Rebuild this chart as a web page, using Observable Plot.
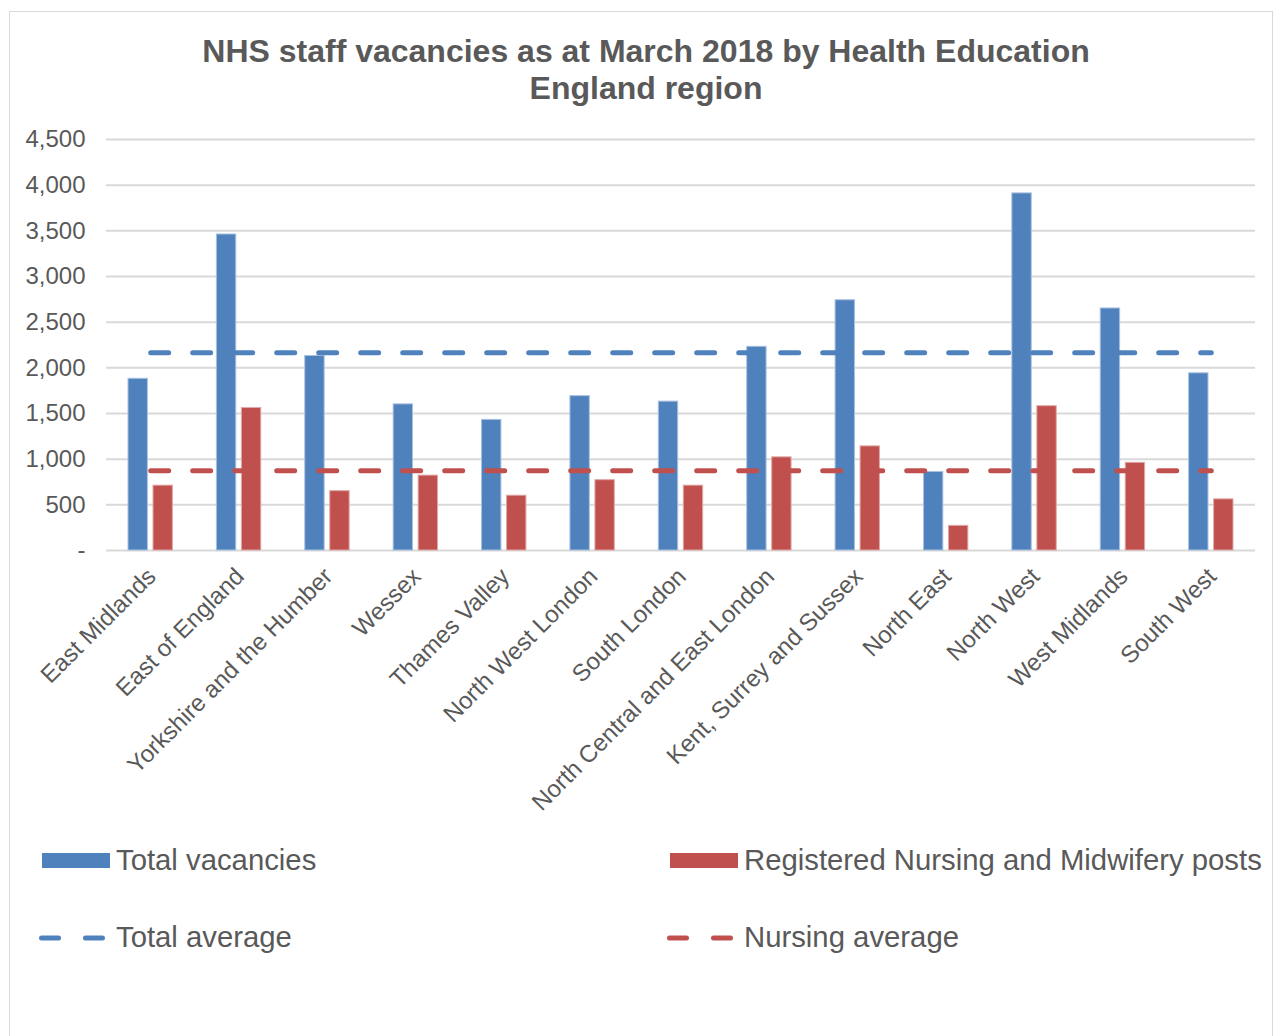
<!DOCTYPE html>
<html><head><meta charset="utf-8">
<script src="https://cdn.jsdelivr.net/npm/d3@7"></script>
<script src="https://cdn.jsdelivr.net/npm/@observablehq/plot@0.6"></script>
<style>
body{margin:0;background:#fff;font-family:"Liberation Sans",Arial,sans-serif;}
#wrap{position:relative;width:1276px;height:1036px;overflow:hidden;background:#fff;}
#frame{position:absolute;left:9px;top:11px;width:1264px;height:1060px;border:1px solid #d9d9d9;box-sizing:border-box;}
#title{position:absolute;left:0;width:1292px;top:33px;text-align:center;font-weight:bold;font-size:32px;line-height:37px;color:#595959;}
#chart{position:absolute;left:0;top:120px;}
.leg{position:absolute;font-size:29.3px;color:#595959;line-height:29px;white-space:nowrap;}
.sw{position:absolute;}
</style></head>
<body><div id="wrap">
<div id="frame"></div>
<div id="title">NHS staff vacancies as at March 2018 by Health Education<br>England region</div>
<div id="chart"></div>
<div id="legend"></div>
</div>
<script>
const regions = ["East Midlands","East of England","Yorkshire and the Humber","Wessex","Thames Valley","North West London","South London","North Central and East London","Kent, Surrey and Sussex","North East","North West","West Midlands","South West"];
const totalVacancies = [1880,3460,2130,1600,1430,1690,1630,2230,2740,860,3910,2650,1940];
const nursingPosts = [710,1560,650,820,600,770,710,1020,1140,270,1580,960,560];
const totalAverage = 2165;
const nursingAverage = 873;
const yTicks = [0,500,1000,1500,2000,2500,3000,3500,4000,4500];
const seriesNames = ["Total vacancies","Registered Nursing and Midwifery posts","Total average","Nursing average"];
const colors = ["#4f81bd","#c0504d"];

const totals = regions.map((r,i)=>({region:r, value: totalVacancies[i]}));
const nursing = regions.map((r,i)=>({region:r, value: nursingPosts[i]}));
const totalAvgData = regions.map(r=>({region:r, value: totalAverage}));
const nursingAvgData = regions.map(r=>({region:r, value: nursingAverage}));

const chart = Plot.plot({
  width:1276, height:700,
  marginTop:19, marginBottom:270, marginLeft:106, marginRight:21,
  style:{fontFamily:'"Liberation Sans", Arial, sans-serif', color:"#595959", background:"transparent", overflow:"visible"},
  x:{domain:regions, padding:0, round:false, axis:null},
  y:{domain:[0,4500], axis:null},
  marks:[
    Plot.ruleY(yTicks,{stroke:"#d9d9d9", strokeWidth:2}),
    Plot.barY(totals,{x:"region", y:"value", fill:colors[0], stroke:"#a9c0df", strokeWidth:1, insetLeft:22, insetRight:47}),
    Plot.barY(nursing,{x:"region", y:"value", fill:colors[1], stroke:"#dfa9a7", strokeWidth:1, insetLeft:47, insetRight:22}),
    Plot.lineY(totalAvgData,{x:"region", y:"value", stroke:colors[0], strokeWidth:5, strokeDasharray:"18,24", strokeLinecap:"round"}),
    Plot.lineY(nursingAvgData,{x:"region", y:"value", stroke:colors[1], strokeWidth:5, strokeDasharray:"18,24", strokeLinecap:"round"}),
    Plot.axisY({ticks:yTicks, tickSize:0, tickPadding:21, fontSize:24, label:null, tickFormat:d=> d===0 ? "-" : d3.format(",")(d)}),
    Plot.axisX({tickRotate:-45, tickSize:0, tickPadding:22, fontSize:24, label:null, dx:1})
  ]
});
document.getElementById("chart").appendChild(chart);

const leg = document.getElementById("legend");
function addSwatchRect(x,y,color){
  const d=document.createElement("div"); d.className="sw";
  d.style.cssText=`left:${x}px;top:${y}px;width:68px;height:15px;background:${color}`;
  leg.appendChild(d);
}
function addSwatchDash(x,y,color){
  const ns="http://www.w3.org/2000/svg";
  const s=document.createElementNS(ns,"svg");
  s.setAttribute("width",80); s.setAttribute("height",12);
  s.style.cssText=`position:absolute;left:${x}px;top:${y-6}px`;
  const l=document.createElementNS(ns,"line");
  l.setAttribute("x1",2.5); l.setAttribute("x2",63.5); l.setAttribute("y1",6); l.setAttribute("y2",6);
  l.setAttribute("stroke",color); l.setAttribute("stroke-width",5);
  l.setAttribute("stroke-dasharray","17,27"); l.setAttribute("stroke-linecap","round");
  s.appendChild(l); leg.appendChild(s);
}
function addText(x,y,t){
  const d=document.createElement("div"); d.className="leg";
  d.style.left=x+"px"; d.style.top=(y-15)+"px"; d.textContent=t; leg.appendChild(d);
}
addSwatchRect(42,853,colors[0]); addText(116,860,seriesNames[0]);
addSwatchRect(670,853,colors[1]); addText(744,860,seriesNames[1]);
addSwatchDash(39,938,colors[0]); addText(116,937,seriesNames[2]);
addSwatchDash(667,938,colors[1]); addText(744,937,seriesNames[3]);
</script>
</body></html>
